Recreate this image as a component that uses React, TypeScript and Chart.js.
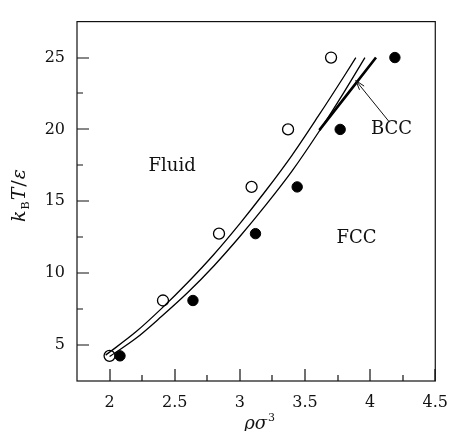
import React, { useEffect, useRef } from "react";
import { Chart, registerables } from "chart.js";

Chart.register(...registerables);

// Simulation state points (open = fluid, filled = FCC solid)
const fluidRho = [2.0, 2.41, 2.84, 3.09, 3.37, 3.7];
const fluidT = [4.25, 8.1, 12.75, 16.0, 20.0, 25.0];
const fccRho = [2.08, 2.64, 3.12, 3.44, 3.77, 4.19];
const fccT = [4.25, 8.1, 12.75, 16.0, 20.0, 25.0];

// Coexistence curves
const freezeRho = [1.97, 2.2, 2.4, 2.6, 2.8, 3.0, 3.2, 3.4, 3.6, 3.8, 3.89];
const freezeT = [4.3, 5.9, 7.55, 9.35, 11.3, 13.45, 15.75, 18.2, 20.9, 23.7, 25.0];
const meltRho = [2.0, 2.2, 2.4, 2.6, 2.8, 3.0, 3.2, 3.4, 3.6, 3.8, 3.96];
const meltT = [4.2, 5.45, 7.0, 8.65, 10.5, 12.55, 14.75, 17.1, 19.75, 22.6, 25.0];
const bccRho = [3.61, 4.045];
const bccT = [19.95, 25.0];

// Axes
const xMin = 1.75;
const xMax = 4.5;
const yMin = 2.5;
const yMax = 27.5;
const xTicks = [2, 2.5, 3, 3.5, 4, 4.5];
const xMinorTicks = [2.25, 2.75, 3.25, 3.75, 4.25];
const yTicks = [5, 10, 15, 20, 25];
const yMinorTicks = [7.5, 12.5, 17.5, 22.5];

// Region labels and arrow
const regionLabels = ["Fluid", "FCC", "BCC"];
const regionRho = [2.48, 3.895, 4.164];
const regionT = [17.4, 12.42, 20.03];
const arrowFrom = [4.149, 20.5];
const arrowTo = [3.89, 23.4];

const SERIF = '"DejaVu Serif", "Liberation Serif", serif';

const pts = (xs: number[], ys: number[]) => xs.map((v, i) => ({ x: v, y: ys[i] }));

const decorPlugin = {
  id: "decor",
  afterDraw(chart: any) {
    const { ctx, chartArea: a, scales } = chart;
    const x = scales.x;
    const y = scales.y;
    ctx.save();
    ctx.strokeStyle = "#111";
    ctx.fillStyle = "#111";
    ctx.lineWidth = 1.2;
    // frame
    ctx.strokeRect(a.left, a.top, a.right - a.left, a.bottom - a.top);
    // inward ticks
    ctx.beginPath();
    xTicks.forEach((v) => {
      const p = Math.round(x.getPixelForValue(v));
      ctx.moveTo(p, a.bottom);
      ctx.lineTo(p, a.bottom - 12);
    });
    xMinorTicks.forEach((v) => {
      const p = Math.round(x.getPixelForValue(v));
      ctx.moveTo(p, a.bottom);
      ctx.lineTo(p, a.bottom - 6);
    });
    yTicks.forEach((v) => {
      const p = Math.round(y.getPixelForValue(v));
      ctx.moveTo(a.left, p);
      ctx.lineTo(a.left + 12, p);
    });
    yMinorTicks.forEach((v) => {
      const p = Math.round(y.getPixelForValue(v));
      ctx.moveTo(a.left, p);
      ctx.lineTo(a.left + 6, p);
    });
    ctx.stroke();

    // region labels
    ctx.font = `18px ${SERIF}`;
    ctx.textAlign = "center";
    ctx.textBaseline = "middle";
    regionLabels.forEach((t, i) => {
      ctx.fillText(t, x.getPixelForValue(regionRho[i]), y.getPixelForValue(regionT[i]));
    });

    // arrow
    const fx = x.getPixelForValue(arrowFrom[0]);
    const fy = y.getPixelForValue(arrowFrom[1]);
    const tx = x.getPixelForValue(arrowTo[0]);
    const ty = y.getPixelForValue(arrowTo[1]);
    const ang = Math.atan2(ty - fy, tx - fx);
    ctx.lineWidth = 1;
    ctx.beginPath();
    ctx.moveTo(fx, fy);
    ctx.lineTo(tx, ty);
    const hl = 10;
    ctx.moveTo(tx - hl * Math.cos(ang - 0.3), ty - hl * Math.sin(ang - 0.3));
    ctx.lineTo(tx, ty);
    ctx.lineTo(tx - hl * Math.cos(ang + 0.3), ty - hl * Math.sin(ang + 0.3));
    ctx.stroke();

    // x title: rho sigma^3
    const cx = (a.left + a.right) / 2 + 3;
    const by = 429;
    ctx.textBaseline = "alphabetic";
    ctx.textAlign = "left";
    const mainX = `italic 18px ${SERIF}`;
    const supX = `11px ${SERIF}`;
    ctx.font = mainX;
    const w1 = ctx.measureText("ρσ").width;
    ctx.font = supX;
    const w2 = ctx.measureText("3").width;
    const sx = cx - (w1 + w2) / 2;
    ctx.font = mainX;
    ctx.fillText("ρσ", sx, by);
    ctx.font = supX;
    ctx.fillText("3", sx + w1 + 1, by - 8);

    // y title: k_B T / epsilon (rotated)
    ctx.save();
    ctx.translate(25, 195);
    ctx.rotate(-Math.PI / 2);
    const parts = [
      { t: "k", f: `italic 19px ${SERIF}`, dy: 0 },
      { t: "B", f: `11px ${SERIF}`, dy: 4 },
      { t: "T", f: `italic 19px ${SERIF}`, dy: 0 },
      { t: "/", f: `19px ${SERIF}`, dy: 0 },
      { t: "ε", f: `italic 19px ${SERIF}`, dy: 0 },
    ];
    let total = 0;
    const widths = parts.map((p) => {
      ctx.font = p.f;
      const w = ctx.measureText(p.t).width + 1;
      total += w;
      return w;
    });
    let px = -total / 2;
    parts.forEach((p, i) => {
      ctx.font = p.f;
      ctx.fillText(p.t, px, p.dy);
      px += widths[i];
    });
    ctx.restore();

    ctx.restore();
  },
};

export default function App() {
  const ref = useRef<HTMLCanvasElement | null>(null);
  useEffect(() => {
    if (!ref.current) return;
    const lineDs = (xs: number[], ys: number[], w: number) => ({
      type: "scatter" as const,
      data: pts(xs, ys),
      showLine: true,
      borderColor: "#000",
      borderWidth: w,
      pointRadius: 0,
      cubicInterpolationMode: "monotone" as const,
      fill: false,
    });
    const chart = new Chart(ref.current, {
      type: "scatter",
      data: {
        datasets: [
          lineDs(freezeRho, freezeT, 1.3),
          lineDs(meltRho, meltT, 1.3),
          lineDs(bccRho, bccT, 2.6),
          {
            data: pts(fluidRho, fluidT),
            pointStyle: "circle",
            pointRadius: 5.5,
            pointBorderWidth: 1.3,
            pointBorderColor: "#000",
            pointBackgroundColor: "rgba(255,255,255,0)",
            showLine: false,
          } as any,
          {
            data: pts(fccRho, fccT),
            pointStyle: "circle",
            pointRadius: 5.2,
            pointBorderWidth: 1,
            pointBorderColor: "#000",
            pointBackgroundColor: "#000",
            showLine: false,
          } as any,
        ],
      },
      options: {
        animation: false,
        responsive: false,
        devicePixelRatio: 1,
        layout: { padding: { top: 13, right: 15, left: 0, bottom: 0 } },
        plugins: { legend: { display: false }, tooltip: { enabled: false } },
        scales: {
          x: {
            type: "linear",
            min: xMin,
            max: xMax,
            grid: { display: false, drawTicks: false },
            border: { display: false },
            afterBuildTicks: (s: any) => {
              s.ticks = xTicks.map((v) => ({ value: v }));
            },
            afterFit: (s: any) => {
              s.height = 50;
            },
            ticks: {
              padding: 12,
              color: "#111",
              font: { family: SERIF, size: 16 },
              maxRotation: 0,
              autoSkip: false,
              callback: (v: any) => String(v),
            },
          },
          y: {
            type: "linear",
            min: yMin,
            max: yMax,
            grid: { display: false, drawTicks: false },
            border: { display: false },
            afterBuildTicks: (s: any) => {
              s.ticks = yTicks.map((v) => ({ value: v }));
            },
            afterFit: (s: any) => {
              s.width = 77;
            },
            ticks: {
              padding: 12,
              color: "#111",
              font: { family: SERIF, size: 16 },
              autoSkip: false,
              callback: (v: any) => String(v),
            },
          },
        },
      },
      plugins: [decorPlugin],
    });
    return () => chart.destroy();
  }, []);
  return (
    <div style={{ position: "fixed", left: 0, top: 0, width: 460, height: 431, background: "#fff" }}>
      <canvas ref={ref} width={460} height={431} style={{ display: "block" }} />
    </div>
  );
}
